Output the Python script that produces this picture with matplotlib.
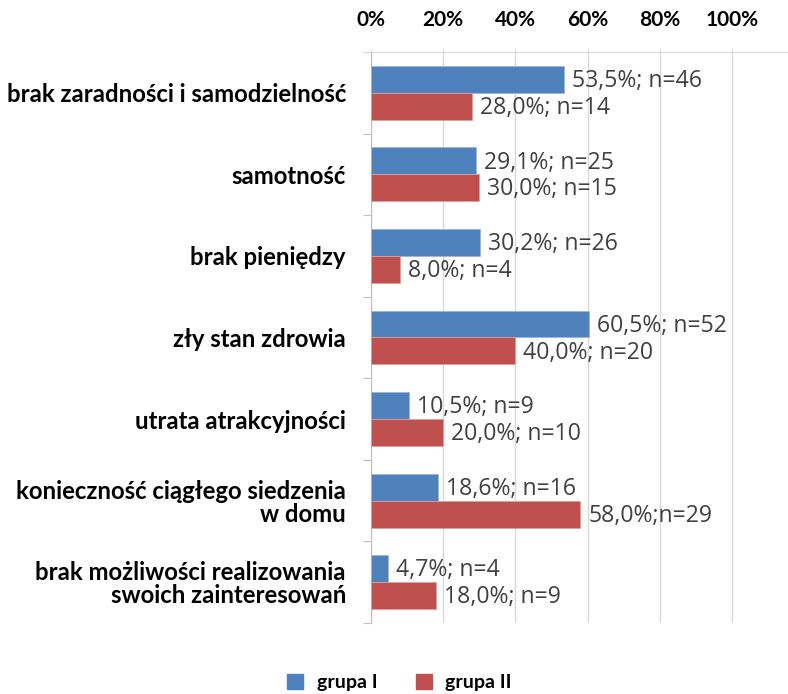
import matplotlib
matplotlib.use("Agg")
import matplotlib.pyplot as plt
import numpy as np
from matplotlib.patches import Patch

categories = [
    "brak zaradności i samodzielność",
    "samotność",
    "brak pieniędzy",
    "zły stan zdrowia",
    "utrata atrakcyjności",
    "konieczność ciągłego siedzenia\nw domu",
    "brak możliwości realizowania\nswoich zainteresowań",
]
grupa1 = [53.5, 29.1, 30.2, 60.5, 10.5, 18.6, 4.7]
grupa2 = [28.0, 30.0, 8.0, 40.0, 20.0, 58.0, 18.0]
n1 = [46, 25, 26, 52, 9, 16, 4]
n2 = [14, 15, 4, 20, 10, 29, 9]
sep2 = ["; ", "; ", "; ", "; ", "; ", ";", "; "]
xticks = [0, 20, 40, 60, 80, 100]

BLUE = "#4F81BD"
RED = "#C0504D"
LABEL_FONT = "Lato"
VALUE_FONT = "Open Sans"


def fmt(v):
    return f"{v:.1f}".replace(".", ",") + "%"


fig = plt.figure(figsize=(7.88, 6.94), dpi=100)
ax = fig.add_axes([0.4708, 0.1023, 0.529, 0.8228])

y = np.arange(len(categories))
h = 0.33
ax.barh(y - h / 2, grupa1, height=h, color=BLUE, edgecolor="#9DB5D9", linewidth=0.6, zorder=3)
ax.barh(y + h / 2, grupa2, height=h, color=RED, edgecolor="#DDA09E", linewidth=0.6, zorder=3)

for i in range(len(categories)):
    ax.text(grupa1[i] + 2.2, y[i] - h / 2 + 0.02, f"{fmt(grupa1[i])}; n={n1[i]}",
            va="center", ha="left", fontsize=16.6, color="#404040", family=VALUE_FONT)
    ax.text(grupa2[i] + 2.2, y[i] + h / 2 + 0.02, f"{fmt(grupa2[i])}{sep2[i]}n={n2[i]}",
            va="center", ha="left", fontsize=16.6, color="#404040", family=VALUE_FONT)

ax.set_xlim(0, 115.5)
ax.set_ylim(len(categories) - 0.5, -0.5)
ax.set_xticks(xticks)
ax.set_xticklabels([f"{t}%" for t in xticks], family=LABEL_FONT, fontsize=15, fontweight="bold")
ax.xaxis.tick_top()
ax.tick_params(axis="x", length=2, width=0.8, color="#D9D9D9", pad=14)
ax.grid(axis="x", color="#D9D9D9", linewidth=1.0, zorder=0)

ax.set_yticks(y)
ax.set_yticklabels(categories, family=LABEL_FONT, fontsize=17.2, fontweight="bold",
                   linespacing=1.0)
ax.set_yticks(np.arange(len(categories) + 1) - 0.5, minor=True)
ax.tick_params(axis="y", which="major", length=0, pad=18)
ax.tick_params(axis="y", which="minor", length=6, width=0.8, color="#BFBFBF")

for s in ["right", "bottom"]:
    ax.spines[s].set_visible(False)
ax.spines["left"].set_color("#BFBFBF")
ax.spines["top"].set_color("#D9D9D9")
ax.spines["top"].set_bounds(-2.2, 115.5)

handles = [Patch(color=BLUE, label="grupa I"), Patch(color=RED, label="grupa II")]
fig.legend(handles=handles, loc="center", bbox_to_anchor=(0.507, 0.016), ncol=2,
           frameon=False, handlelength=0.8, handleheight=0.8, handletextpad=0.7,
           columnspacing=2.0, prop={"family": LABEL_FONT, "size": 14, "weight": "bold"})

fig.savefig("out.png", dpi=100)
